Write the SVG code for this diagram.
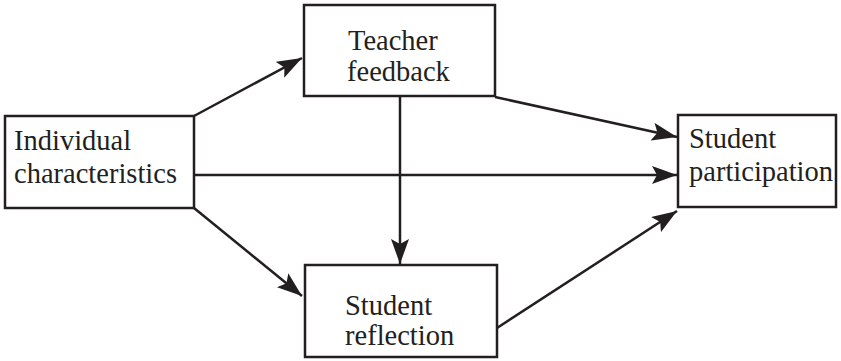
<svg xmlns="http://www.w3.org/2000/svg" width="841" height="361" viewBox="0 0 841 361">
<style>
.box{fill:#fff;stroke:#231f20;stroke-width:2.5}
.t{font-family:'Liberation Serif','Times New Roman',serif;font-size:28.5px;fill:#231f20}
.c{stroke:#231f20;stroke-width:2.5;fill:none}
</style>
<defs>
<marker id="ah" viewBox="0 0 25 18" refX="25" refY="9" markerWidth="25" markerHeight="18" markerUnits="userSpaceOnUse" orient="auto">
<path d="M0,0 L25,9 L0,18 L5,9 Z" fill="#231f20"/>
</marker>
</defs>
<g id="connectors">
<line class="c" x1="194" y1="116" x2="302" y2="58" marker-end="url(#ah)"/>
<line class="c" x1="194" y1="175" x2="677" y2="175" marker-end="url(#ah)"/>
<line class="c" x1="194" y1="208" x2="302" y2="296" marker-end="url(#ah)"/>
<line class="c" x1="400" y1="96" x2="400" y2="264" marker-end="url(#ah)"/>
<line class="c" x1="495" y1="97" x2="677" y2="137" marker-end="url(#ah)"/>
<line class="c" x1="497" y1="328" x2="677" y2="211" marker-end="url(#ah)"/>
</g>
<g id="individual">
<rect class="box" x="5" y="116" width="189" height="92"/>
<text class="t" x="14" y="150">Individual</text>
<text class="t" x="14" y="183">characteristics</text>
</g>
<g id="teacher">
<rect class="box" x="304" y="5" width="191" height="91"/>
<text class="t" x="348" y="50">Teacher</text>
<text class="t" x="347" y="81">feedback</text>
</g>
<g id="reflection">
<rect class="box" x="305" y="265" width="192" height="92"/>
<text class="t" x="345" y="315">Student</text>
<text class="t" x="345" y="345">reflection</text>
</g>
<g id="participation">
<rect class="box" x="678" y="115" width="158" height="92"/>
<text class="t" x="689" y="148">Student</text>
<text class="t" x="689" y="181">participation</text>
</g>
</svg>
